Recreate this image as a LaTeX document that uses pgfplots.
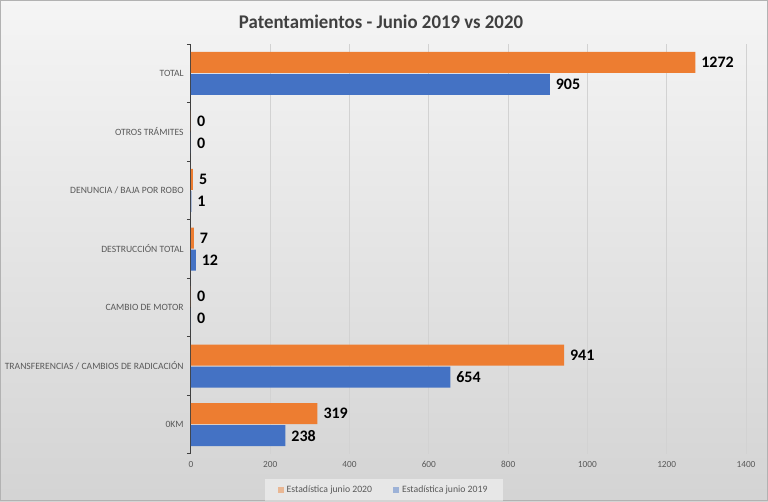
\documentclass[border=0pt]{standalone}
\usepackage{fontspec}
\setmainfont{Carlito}
\usepackage{graphicx}
\usepackage{pgfplots}
\pgfplotsset{compat=1.18}
\definecolor{orng}{HTML}{ED7D31}
\definecolor{blu}{HTML}{4472C4}
\definecolor{txtgray}{HTML}{595959}
\definecolor{titlegray}{HTML}{404040}
\definecolor{gridgray}{HTML}{D2D2D2}
\begin{document}
\begin{tikzpicture}[x=1pt,y=1pt]
\useasboundingbox (0,0) rectangle (576,375.75);
\shade[top color=black!4, bottom color=black!17] (0,0) rectangle (576,375.75);
\draw[black!30, line width=0.75pt] (0.375,0.375) rectangle (575.375,375.375);
\node[font=\fontsize{14.5}{16}\selectfont\bfseries, text=titlegray] at (285.75,359.25) {\resizebox{213pt}{\height}{Patentamientos - Junio 2019 vs 2020}};
\begin{axis}[
  at={(143.25pt,35.4pt)}, anchor=south west, scale only axis,
  width=416.25pt, height=307.2pt,
  xbar, bar width=15.75pt,
  xmin=0, xmax=1400, ymin=-0.5, ymax=6.5,
  xtick={0,200,...,1400},
  ytick={0,...,6},
  yticklabels={0KM, TRANSFERENCIAS / CAMBIOS DE RADICACIÓN, CAMBIO DE MOTOR, DESTRUCCIÓN TOTAL, DENUNCIA / BAJA POR ROBO, OTROS TRÁMITES, TOTAL},
  separate axis lines,
  axis x line*=bottom, axis y line*=left,
  x axis line style={draw=none},
  y axis line style={draw=black!75, line width=0.75pt, -},
  xmajorgrids, grid style={gridgray, line width=0.75pt},
  major tick length=0pt,
  tick align=outside,
  extra y ticks={-0.5,0.5,...,6.5},
  extra y tick labels={},
  extra y tick style={major tick length=3pt, tick style={draw=black!75, line width=0.75pt}, grid=none},
  tick label style={font=\fontsize{7}{8}\selectfont, text=txtgray},
  yticklabel style={font=\fontsize{7.2}{8}\selectfont, xshift=-2pt},
  /pgf/number format/assume math mode=true,
  /pgf/number format/1000 sep={},
  xticklabel style={yshift=-2pt},
  nodes near coords,
  every node near coord/.append style={font=\fontsize{12}{14}\selectfont\bfseries, text=black, anchor=west, xshift=1pt},
  legend style={at={(0.348,-0.0885)}, anchor=center, legend columns=2, draw=none, fill=white, fill opacity=0.45, text opacity=1,
    font=\fontsize{7.3}{8}\selectfont, text=txtgray, inner xsep=10pt, inner ysep=3pt,
    /tikz/every even column/.append style={column sep=14pt}},
  legend image code/.code={\fill[#1] (0pt,-2.2pt) rectangle (4.4pt,2.2pt);},
]
\addplot[fill=orng, draw=none, bar shift=8.25pt] coordinates {(319,0) (941,1) (0,2) (7,3) (5,4) (0,5) (1272,6)};
\addplot[fill=blu, draw=none, bar shift=-8.25pt] coordinates {(238,0) (654,1) (0,2) (12,3) (1,4) (0,5) (905,6)};
\legend{Estadística junio 2020, Estadística junio 2019}
\end{axis}
\end{tikzpicture}
\end{document}
